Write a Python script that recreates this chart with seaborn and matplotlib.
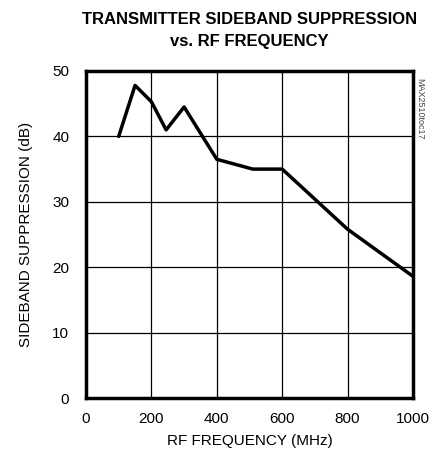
import matplotlib
matplotlib.use("Agg")
import matplotlib.pyplot as plt
import seaborn as sns
import pandas as pd

freq_mhz = [100, 150, 200, 245, 300, 400, 510, 600, 800, 1000]
suppression_db = [40.0, 47.8, 45.3, 41.0, 44.5, 36.5, 35.0, 35.0, 25.8, 18.6]
x_ticks = [0, 200, 400, 600, 800, 1000]
y_ticks = [0, 10, 20, 30, 40, 50]

sns.set_style("white")
plt.rcParams["font.family"] = ["Liberation Sans", "DejaVu Sans"]
plt.rcParams["text.color"] = "black"
plt.rcParams["axes.labelcolor"] = "black"
plt.rcParams["xtick.color"] = "black"
plt.rcParams["ytick.color"] = "black"

df = pd.DataFrame({"freq": freq_mhz, "sup": suppression_db})

fig = plt.figure(figsize=(4.43, 4.58), dpi=100)
ax = fig.add_axes([86 / 443, 60 / 458, 327 / 443, 327 / 458])

sns.lineplot(data=df, x="freq", y="sup", color="black", linewidth=2.5, ax=ax)

ax.set_xlim(0, 1000)
ax.set_ylim(0, 50)
ax.set_xticks(x_ticks)
ax.set_yticks(y_ticks)
ax.grid(True, color="black", linewidth=0.9)
ax.tick_params(axis="x", labelsize=11, length=0, pad=10)
ax.tick_params(axis="y", labelsize=11, length=0, pad=12)
for s in ax.spines.values():
    s.set_linewidth(2.5)
    s.set_color("black")

ax.set_xlabel("RF FREQUENCY (MHz)", fontsize=11, labelpad=6)
ax.set_ylabel("SIDEBAND SUPPRESSION (dB)", fontsize=11, labelpad=14)
ax.set_title("TRANSMITTER SIDEBAND SUPPRESSION\nvs. RF FREQUENCY",
             fontsize=12, fontweight="bold", pad=18, linespacing=1.6)

ax.text(1.008, 0.98, "MAX2510toc17", transform=ax.transAxes, rotation=270,
        fontsize=6.5, color="#444444", ha="left", va="top")

fig.savefig("out.png", dpi=100)
